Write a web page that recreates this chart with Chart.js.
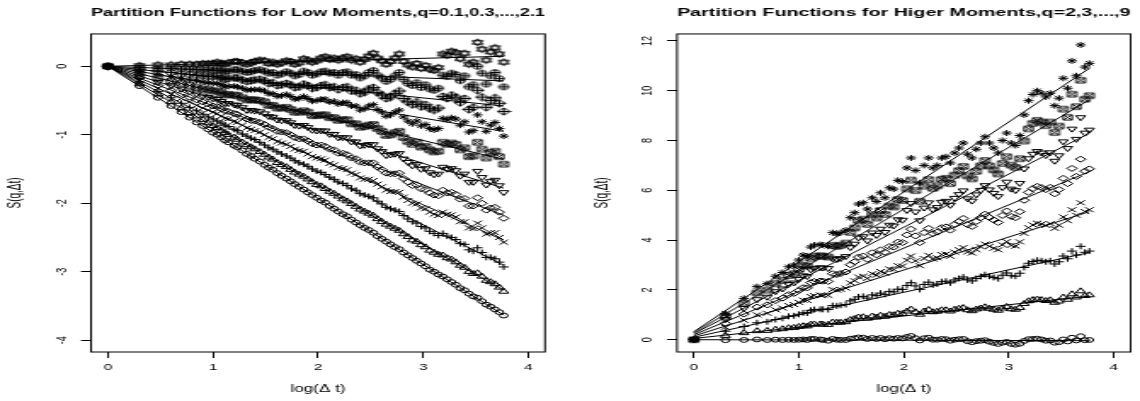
<!DOCTYPE html>
<html>
<head>
<meta charset="utf-8">
<script src="https://cdn.jsdelivr.net/npm/chart.js@4.4.1/dist/chart.umd.min.js"></script>
<style>
  body { margin: 0; background: #fff; width: 1140px; height: 401px; overflow: hidden; position: relative; }
  /* the plots are drawn narrow and widened, as the original device did */
  .panel { position: absolute; top: 0; width: 335px; height: 401px; transform: scaleX(1.7015); transform-origin: 0 0; }
</style>
</head>
<body>
<div class="panel" style="left:0"><canvas id="low" width="335" height="401"></canvas></div>
<div class="panel" style="left:570px"><canvas id="high" width="335" height="401"></canvas></div>
<script>
// log10 of the time lag
const logDt = [0,0.301,0.477,0.602,0.699,0.778,0.845,0.903,0.954,1.000,
  1.041,1.079,1.114,1.146,1.204,1.230,1.279,1.322,1.362,1.398,
  1.447,1.491,1.531,1.568,1.613,1.653,1.699,1.740,1.778,1.820,
  1.863,1.903,1.944,1.987,2.029,2.068,2.111,2.152,2.193,2.236,
  2.276,2.318,2.360,2.401,2.442,2.483,2.525,2.566,2.607,2.649,
  2.690,2.732,2.773,2.814,2.856,2.898,2.939,2.980,3.022,3.063,
  3.104,3.146,3.187,3.229,3.270,3.311,3.353,3.394,3.436,3.477,
  3.518,3.560,3.601,3.642,3.684,3.725,3.767];

const xTicks = [0, 1, 2, 3, 4];
const lowYTicks = [-4, -3, -2, -1, 0];
const highYTicks = [0, 2, 4, 6, 8, 10, 12];

// S(q, dt) for the low moments q = 0.1, 0.3, ..., 2.1
const lowQ01 = [0,-0.29,-0.46,-0.58,-0.67,-0.75,-0.82,-0.87,-0.92,-0.97,
  -1.00,-1.04,-1.08,-1.11,-1.16,-1.18,-1.23,-1.28,-1.31,-1.35,
  -1.39,-1.44,-1.48,-1.51,-1.56,-1.60,-1.64,-1.68,-1.72,-1.76,
  -1.80,-1.84,-1.88,-1.92,-1.96,-1.99,-2.04,-2.08,-2.12,-2.16,
  -2.19,-2.24,-2.28,-2.32,-2.36,-2.39,-2.43,-2.48,-2.52,-2.56,
  -2.60,-2.64,-2.67,-2.72,-2.76,-2.80,-2.84,-2.88,-2.92,-2.97,
  -3.00,-3.04,-3.07,-3.11,-3.15,-3.19,-3.24,-3.27,-3.32,-3.36,
  -3.38,-3.43,-3.48,-3.51,-3.55,-3.59,-3.64];
const lowQ03 = [0,-0.26,-0.41,-0.52,-0.61,-0.68,-0.73,-0.78,-0.83,-0.87,
  -0.90,-0.94,-0.97,-1.00,-1.04,-1.07,-1.11,-1.15,-1.18,-1.21,
  -1.25,-1.29,-1.33,-1.36,-1.41,-1.44,-1.47,-1.51,-1.55,-1.58,
  -1.61,-1.65,-1.69,-1.73,-1.75,-1.79,-1.83,-1.86,-1.90,-1.94,
  -1.97,-2.01,-2.05,-2.09,-2.12,-2.15,-2.18,-2.23,-2.27,-2.31,
  -2.34,-2.37,-2.40,-2.45,-2.49,-2.54,-2.56,-2.61,-2.64,-2.69,
  -2.72,-2.75,-2.76,-2.80,-2.82,-2.86,-2.91,-2.94,-3.00,-3.03,
  -3.02,-3.07,-3.13,-3.15,-3.18,-3.23,-3.29];
const lowQ05 = [0,-0.23,-0.37,-0.46,-0.54,-0.60,-0.65,-0.70,-0.74,-0.77,
  -0.80,-0.83,-0.86,-0.88,-0.92,-0.94,-0.99,-1.02,-1.05,-1.07,
  -1.11,-1.15,-1.19,-1.21,-1.25,-1.28,-1.31,-1.34,-1.38,-1.41,
  -1.43,-1.46,-1.50,-1.53,-1.55,-1.58,-1.62,-1.65,-1.69,-1.71,
  -1.74,-1.79,-1.81,-1.86,-1.88,-1.90,-1.92,-1.97,-2.01,-2.06,
  -2.08,-2.10,-2.12,-2.18,-2.23,-2.27,-2.29,-2.34,-2.36,-2.41,
  -2.44,-2.47,-2.44,-2.48,-2.50,-2.53,-2.59,-2.60,-2.68,-2.70,
  -2.65,-2.72,-2.79,-2.79,-2.81,-2.86,-2.93];
const lowQ07 = [0,-0.20,-0.32,-0.41,-0.47,-0.52,-0.57,-0.61,-0.64,-0.67,
  -0.69,-0.73,-0.76,-0.77,-0.80,-0.82,-0.86,-0.90,-0.92,-0.94,
  -0.96,-1.00,-1.04,-1.06,-1.10,-1.12,-1.14,-1.17,-1.21,-1.23,
  -1.24,-1.28,-1.32,-1.34,-1.35,-1.37,-1.42,-1.44,-1.48,-1.49,
  -1.51,-1.56,-1.58,-1.63,-1.65,-1.65,-1.67,-1.72,-1.76,-1.81,
  -1.83,-1.83,-1.84,-1.91,-1.96,-2.00,-2.01,-2.07,-2.08,-2.13,
  -2.16,-2.18,-2.13,-2.16,-2.17,-2.20,-2.27,-2.27,-2.36,-2.37,
  -2.29,-2.36,-2.45,-2.43,-2.43,-2.50,-2.57];
const lowQ09 = [0,-0.17,-0.28,-0.35,-0.40,-0.45,-0.49,-0.52,-0.55,-0.58,
  -0.59,-0.62,-0.65,-0.66,-0.69,-0.70,-0.74,-0.77,-0.79,-0.80,
  -0.82,-0.85,-0.89,-0.91,-0.95,-0.96,-0.97,-1.00,-1.04,-1.06,
  -1.06,-1.09,-1.13,-1.15,-1.15,-1.17,-1.21,-1.22,-1.27,-1.27,
  -1.29,-1.34,-1.35,-1.40,-1.41,-1.41,-1.41,-1.47,-1.51,-1.56,
  -1.57,-1.57,-1.56,-1.64,-1.69,-1.74,-1.73,-1.79,-1.80,-1.85,
  -1.88,-1.89,-1.81,-1.85,-1.84,-1.87,-1.94,-1.93,-2.04,-2.04,
  -1.92,-2.00,-2.10,-2.07,-2.06,-2.13,-2.22];
const lowQ11 = [0,-0.14,-0.23,-0.28,-0.33,-0.37,-0.40,-0.43,-0.45,-0.47,
  -0.48,-0.51,-0.54,-0.54,-0.56,-0.57,-0.60,-0.64,-0.64,-0.65,
  -0.66,-0.69,-0.73,-0.74,-0.78,-0.79,-0.79,-0.82,-0.86,-0.87,
  -0.86,-0.89,-0.93,-0.94,-0.94,-0.94,-0.99,-0.99,-1.04,-1.04,
  -1.04,-1.10,-1.10,-1.16,-1.15,-1.14,-1.14,-1.20,-1.24,-1.30,
  -1.29,-1.28,-1.27,-1.35,-1.40,-1.45,-1.43,-1.50,-1.49,-1.55,
  -1.58,-1.57,-1.47,-1.50,-1.49,-1.52,-1.60,-1.57,-1.69,-1.69,
  -1.53,-1.62,-1.73,-1.68,-1.66,-1.74,-1.84];
const lowQ13 = [0,-0.11,-0.17,-0.22,-0.25,-0.28,-0.31,-0.33,-0.34,-0.36,
  -0.36,-0.39,-0.42,-0.41,-0.42,-0.43,-0.46,-0.49,-0.49,-0.49,
  -0.50,-0.52,-0.57,-0.57,-0.61,-0.61,-0.60,-0.63,-0.67,-0.67,
  -0.65,-0.67,-0.72,-0.72,-0.71,-0.71,-0.75,-0.75,-0.79,-0.78,
  -0.78,-0.84,-0.84,-0.89,-0.88,-0.86,-0.85,-0.91,-0.95,-1.01,
  -1.00,-0.97,-0.95,-1.04,-1.10,-1.14,-1.11,-1.18,-1.17,-1.22,
  -1.25,-1.24,-1.11,-1.14,-1.12,-1.14,-1.22,-1.19,-1.32,-1.31,
  -1.11,-1.21,-1.34,-1.26,-1.24,-1.32,-1.43];
const lowQ15 = [0,-0.08,-0.12,-0.15,-0.18,-0.20,-0.21,-0.23,-0.24,-0.25,
  -0.25,-0.27,-0.30,-0.29,-0.29,-0.30,-0.32,-0.35,-0.34,-0.34,
  -0.34,-0.36,-0.40,-0.40,-0.44,-0.43,-0.41,-0.44,-0.48,-0.47,
  -0.44,-0.47,-0.51,-0.50,-0.48,-0.48,-0.52,-0.51,-0.55,-0.53,
  -0.53,-0.58,-0.58,-0.64,-0.62,-0.58,-0.56,-0.63,-0.67,-0.73,
  -0.71,-0.67,-0.64,-0.74,-0.80,-0.84,-0.80,-0.87,-0.85,-0.91,
  -0.93,-0.91,-0.76,-0.78,-0.75,-0.77,-0.86,-0.81,-0.96,-0.94,
  -0.71,-0.81,-0.95,-0.86,-0.82,-0.91,-1.02];
const lowQ17 = [0,-0.05,-0.07,-0.09,-0.11,-0.12,-0.13,-0.14,-0.15,-0.15,
  -0.14,-0.17,-0.19,-0.18,-0.17,-0.17,-0.20,-0.22,-0.21,-0.20,
  -0.19,-0.21,-0.25,-0.24,-0.28,-0.27,-0.25,-0.27,-0.31,-0.30,
  -0.26,-0.28,-0.32,-0.31,-0.28,-0.27,-0.31,-0.30,-0.34,-0.31,
  -0.30,-0.36,-0.35,-0.40,-0.38,-0.33,-0.31,-0.38,-0.42,-0.47,
  -0.45,-0.40,-0.36,-0.47,-0.52,-0.56,-0.52,-0.59,-0.56,-0.62,
  -0.64,-0.61,-0.44,-0.47,-0.42,-0.45,-0.53,-0.47,-0.63,-0.60,
  -0.35,-0.45,-0.60,-0.50,-0.46,-0.54,-0.66];
const lowQ19 = [0,-0.02,-0.03,-0.03,-0.04,-0.04,-0.05,-0.05,-0.05,-0.06,
  -0.04,-0.06,-0.08,-0.07,-0.05,-0.05,-0.07,-0.09,-0.08,-0.06,
  -0.05,-0.07,-0.10,-0.09,-0.13,-0.11,-0.08,-0.10,-0.14,-0.12,
  -0.07,-0.09,-0.13,-0.11,-0.08,-0.07,-0.10,-0.09,-0.13,-0.09,
  -0.08,-0.13,-0.12,-0.17,-0.14,-0.09,-0.06,-0.13,-0.17,-0.22,
  -0.19,-0.14,-0.09,-0.19,-0.25,-0.28,-0.24,-0.31,-0.27,-0.33,
  -0.35,-0.32,-0.13,-0.15,-0.10,-0.12,-0.21,-0.14,-0.30,-0.27,
  0.00,-0.10,-0.26,-0.14,-0.09,-0.18,-0.30];
const lowQ21 = [0,0.01,0.02,0.02,0.03,0.03,0.03,0.04,0.04,0.04,
  0.06,0.04,0.03,0.05,0.07,0.07,0.05,0.03,0.05,0.07,
  0.09,0.08,0.04,0.06,0.03,0.05,0.08,0.07,0.03,0.05,
  0.11,0.09,0.06,0.08,0.12,0.14,0.10,0.12,0.09,0.12,
  0.14,0.09,0.11,0.06,0.10,0.15,0.19,0.12,0.08,0.03,
  0.07,0.12,0.18,0.07,0.02,-0.01,0.04,-0.03,0.01,-0.04,
  -0.06,-0.02,0.18,0.16,0.22,0.20,0.11,0.19,0.03,0.06,
  0.35,0.25,0.09,0.21,0.27,0.18,0.06];

// least-squares lines, value at the first and at the last lag
const lowFitStart = [0, 0, 0, 0, 0, 0, 0, 0, 0, 0, 0];
const lowFitEnd = [-3.635, -3.27, -2.905, -2.54, -2.175, -1.78, -1.36, -0.95, -0.58, -0.214, 0.146];

// S(q, dt) for the higher moments q = 2, 3, ..., 9
const highQ2 = [0,-0.02,-0.01,0.01,-0.01,0.00,-0.01,0.00,-0.01,0.00,
  0.01,-0.01,0.03,0.03,0.01,-0.01,-0.04,0.03,0.00,-0.01,
  -0.01,0.04,0.06,0.09,0.08,0.03,0.07,0.03,0.07,0.02,
  0.06,0.04,0.07,0.05,0.11,0.15,0.06,-0.03,0.06,0.08,
  0.00,0.00,0.03,0.02,-0.04,0.00,0.02,0.03,-0.06,-0.10,
  -0.06,-0.04,-0.02,-0.08,-0.13,-0.17,-0.12,-0.09,-0.17,-0.20,
  -0.16,-0.05,0.02,0.03,0.04,0.01,-0.04,-0.03,-0.12,-0.10,
  0.01,-0.07,0.08,-0.03,0.14,-0.02,-0.01];
const highQ3 = [0,0.16,0.27,0.35,0.36,0.41,0.43,0.47,0.48,0.52,
  0.55,0.54,0.61,0.62,0.62,0.61,0.60,0.70,0.69,0.69,
  0.71,0.80,0.84,0.90,0.91,0.85,0.94,0.90,0.97,0.93,
  1.00,0.99,1.05,1.04,1.14,1.22,1.11,1.01,1.14,1.20,
  1.11,1.13,1.19,1.19,1.14,1.21,1.25,1.28,1.19,1.15,
  1.22,1.26,1.31,1.25,1.21,1.17,1.26,1.32,1.23,1.21,
  1.28,1.44,1.55,1.60,1.62,1.60,1.56,1.59,1.49,1.54,
  1.70,1.61,1.83,1.70,1.95,1.76,1.79];
const highQ4 = [0,0.34,0.53,0.68,0.72,0.81,0.86,0.94,0.96,1.02,
  1.08,1.07,1.18,1.21,1.22,1.22,1.21,1.37,1.36,1.38,
  1.41,1.56,1.62,1.72,1.74,1.67,1.80,1.77,1.87,1.82,
  1.94,1.92,2.03,2.02,2.18,2.29,2.16,2.02,2.22,2.31,
  2.20,2.24,2.33,2.35,2.28,2.40,2.46,2.52,2.40,2.36,
  2.46,2.54,2.61,2.55,2.50,2.45,2.59,2.68,2.57,2.55,
  2.67,2.90,3.07,3.14,3.19,3.17,3.13,3.17,3.04,3.13,
  3.36,3.25,3.56,3.40,3.75,3.51,3.56];
const highQ5 = [0,0.50,0.78,1.00,1.06,1.20,1.27,1.37,1.41,1.50,
  1.59,1.58,1.73,1.77,1.79,1.79,1.78,2.01,1.99,2.02,
  2.07,2.28,2.37,2.52,2.55,2.46,2.65,2.59,2.74,2.67,
  2.84,2.82,2.97,2.96,3.19,3.36,3.17,2.97,3.26,3.39,
  3.24,3.29,3.42,3.44,3.35,3.52,3.61,3.70,3.52,3.48,
  3.62,3.73,3.84,3.75,3.67,3.61,3.81,3.94,3.79,3.76,
  3.93,4.27,4.50,4.61,4.68,4.65,4.59,4.66,4.47,4.60,
  4.93,4.78,5.22,5.00,5.50,5.15,5.22];
const highQ6 = [0,0.66,1.03,1.31,1.40,1.57,1.67,1.81,1.86,1.98,
  2.09,2.08,2.29,2.34,2.36,2.35,2.34,2.65,2.62,2.66,
  2.72,3.01,3.13,3.32,3.36,3.23,3.49,3.41,3.61,3.51,
  3.74,3.72,3.92,3.90,4.21,4.44,4.17,3.90,4.30,4.47,
  4.26,4.32,4.50,4.53,4.40,4.63,4.75,4.87,4.62,4.55,
  4.75,4.90,5.04,4.91,4.81,4.71,4.99,5.17,4.95,4.90,
  5.14,5.60,5.92,6.07,6.16,6.11,6.03,6.12,5.86,6.03,
  6.48,6.27,6.88,6.56,7.25,6.77,6.86];
const highQ7 = [0,0.82,1.27,1.62,1.72,1.94,2.05,2.23,2.29,2.43,
  2.58,2.55,2.82,2.88,2.90,2.89,2.87,3.26,3.23,3.27,
  3.35,3.71,3.85,4.10,4.15,3.98,4.30,4.20,4.45,4.32,
  4.61,4.58,4.83,4.81,5.20,5.48,5.14,4.79,5.30,5.51,
  5.23,5.32,5.53,5.57,5.41,5.69,5.84,5.99,5.67,5.58,
  5.83,6.01,6.20,6.03,5.89,5.76,6.12,6.34,6.06,6.00,
  6.29,6.87,7.28,7.46,7.57,7.51,7.41,7.52,7.18,7.40,
  7.96,7.69,8.47,8.06,8.93,8.31,8.43];
const highQ8 = [0,0.93,1.46,1.88,1.99,2.25,2.38,2.58,2.65,2.82,
  2.99,2.96,3.27,3.35,3.37,3.35,3.32,3.79,3.75,3.79,
  3.88,4.31,4.49,4.78,4.84,4.63,5.02,4.89,5.19,5.03,
  5.37,5.33,5.63,5.59,6.06,6.41,5.99,5.56,6.17,6.43,
  6.08,6.18,6.44,6.48,6.27,6.61,6.79,6.96,6.58,6.46,
  6.76,6.98,7.20,6.98,6.82,6.66,7.08,7.35,7.01,6.92,
  7.27,7.98,8.47,8.69,8.81,8.74,8.60,8.74,8.32,8.58,
  9.26,8.93,9.86,9.36,10.42,9.66,9.80];
const highQ9 = [0,1.06,1.66,2.13,2.25,2.55,2.70,2.93,3.00,3.20,
  3.40,3.35,3.72,3.80,3.82,3.80,3.75,4.30,4.25,4.30,
  4.40,4.90,5.10,5.45,5.50,5.25,5.70,5.55,5.90,5.70,
  6.10,6.05,6.40,6.35,6.90,7.30,6.80,6.30,7.00,7.30,
  6.90,7.00,7.30,7.35,7.10,7.50,7.70,7.90,7.45,7.30,
  7.65,7.90,8.15,7.90,7.70,7.50,8.00,8.30,7.90,7.80,
  8.20,9.03,9.60,9.85,10.00,9.90,9.75,9.90,9.40,9.70,
  10.50,10.10,11.20,10.60,11.84,10.95,11.10];

const highFitStart = [0, 0.05, 0.10, 0.15, 0.20, 0.25, 0.28, 0.32];
const highFitEnd = [-0.04, 1.75, 3.50, 5.14, 6.75, 8.29, 9.63, 10.90];

Chart.defaults.font.family = '"Liberation Sans", Arial, Helvetica, sans-serif';
Chart.defaults.color = '#000';

// plotting symbols that Chart.js has no shape for
function symbol(draw) {
  const c = document.createElement('canvas');
  c.width = 9; c.height = 9;
  const g = c.getContext('2d');
  g.strokeStyle = '#000';
  g.lineWidth = 1;
  g.beginPath();
  draw(g, 4.5);
  g.stroke();
  return c;
}
const squareCross = symbol((g, c) => {
  const h = 2.6;
  g.rect(c - h, c - h, 2 * h, 2 * h);
  g.moveTo(c - h, c - h); g.lineTo(c + h, c + h);
  g.moveTo(c + h, c - h); g.lineTo(c - h, c + h);
});
const diamondPlus = symbol((g, c) => {
  const r = 3.6;
  g.moveTo(c - r, c); g.lineTo(c, c - r); g.lineTo(c + r, c); g.lineTo(c, c + r); g.closePath();
  g.moveTo(c - r, c); g.lineTo(c + r, c);
  g.moveTo(c, c - r); g.lineTo(c, c + r);
});
const circlePlus = symbol((g, c) => {
  const r = 2.8;
  g.arc(c, c, r, 0, Math.PI * 2);
  g.moveTo(c - r, c); g.lineTo(c + r, c);
  g.moveTo(c, c - r); g.lineTo(c, c + r);
});
const twoTriangles = symbol((g, c) => {
  const r = 3.6, w = r * 0.866;
  g.moveTo(c, c - r); g.lineTo(c + w, c + r / 2); g.lineTo(c - w, c + r / 2); g.closePath();
  g.moveTo(c, c + r); g.lineTo(c + w, c - r / 2); g.lineTo(c - w, c - r / 2); g.closePath();
});

const shapes = ['circle', 'triangle', 'cross', 'crossRot', 'rectRot', 'triangle',
  squareCross, 'star', diamondPlus, circlePlus, twoTriangles];
const turns = [0, 0, 0, 0, 0, 180, 0, 0, 0, 0, 0];
const sizes = [2.4, 3.3, 3.0, 3.5, 3.0, 3.3, 4.5, 3.0, 4.5, 4.5, 4.5];

function pointSet(ys, k) {
  return {
    data: ys.map((y, i) => ({ x: logDt[i], y: y })),
    showLine: false,
    pointStyle: shapes[k],
    pointRotation: turns[k],
    pointRadius: sizes[k],
    pointBorderColor: '#000',
    pointBackgroundColor: 'rgba(0,0,0,0)',
    pointBorderWidth: 1
  };
}

function fitSet(y0, y1) {
  return {
    data: [{ x: logDt[0], y: y0 }, { x: logDt[logDt.length - 1], y: y1 }],
    showLine: true,
    pointRadius: 0,
    borderColor: '#000',
    borderWidth: 1
  };
}

const frame = {
  id: 'frame',
  afterDraw(chart) {
    const { ctx, chartArea: a } = chart;
    ctx.save();
    ctx.strokeStyle = '#000';
    ctx.lineWidth = 1;
    ctx.strokeRect(a.left, a.top, a.right - a.left, a.bottom - a.top);
    ctx.restore();
  }
};

function drawPanel(id, title, series, starts, ends, yMin, yMax, yTicks, yWidth, padRight, tickPad, labelPad) {
  const datasets = [];
  series.forEach((ys, k) => {
    datasets.push(pointSet(ys, k));
    datasets.push(fitSet(starts[k], ends[k]));
  });
  new Chart(document.getElementById(id), {
    type: 'scatter',
    data: { datasets: datasets },
    plugins: [frame],
    options: {
      responsive: false,
      animation: false,
      devicePixelRatio: 1,
      events: [],
      layout: { padding: { left: 0, right: padRight, top: 0, bottom: 0 } },
      plugins: {
        legend: { display: false },
        tooltip: { enabled: false },
        title: {
          display: true,
          text: title,
          fullSize: false,
          color: '#000',
          font: { size: 11.8, weight: 'bold' },
          padding: { top: 6, bottom: 13.8 }
        }
      },
      scales: {
        x: {
          type: 'linear',
          min: -0.16,
          max: 4.16,
          afterBuildTicks: s => { s.ticks = xTicks.map(v => ({ value: v })); },
          afterFit: s => { s.height = 49; },
          border: { display: false },
          grid: { drawOnChartArea: false, drawTicks: true, tickLength: 6, color: '#000', lineWidth: 1 },
          ticks: { font: { size: 9 }, color: '#000', padding: 4.6, maxRotation: 0, autoSkip: false },
          title: { display: true, text: 'log(Δ t)', color: '#000', font: { size: 10 }, padding: { top: 0, bottom: 6 } }
        },
        y: {
          type: 'linear',
          min: yMin,
          max: yMax,
          afterBuildTicks: s => { s.ticks = yTicks.map(v => ({ value: v })); },
          afterFit: s => { s.width = yWidth; },
          border: { display: false },
          grid: { drawOnChartArea: false, drawTicks: true, tickLength: 5.9, color: '#000', lineWidth: 1 },
          ticks: { font: { size: 9 }, color: '#000', padding: tickPad, minRotation: 90, maxRotation: 90, crossAlign: 'center', autoSkip: false },
          title: { display: true, text: 'S(q,Δt)', color: '#000', font: { size: 10 }, padding: { top: labelPad, bottom: 0 } }
        }
      }
    }
  });
}

drawPanel('low', 'Partition Functions for Low Moments,q=0.1,0.3,...,2.1',
  [lowQ01, lowQ03, lowQ05, lowQ07, lowQ09, lowQ11, lowQ13, lowQ15, lowQ17, lowQ19, lowQ21],
  lowFitStart, lowFitEnd, -4.172, 0.472, lowYTicks, 53.5, 14.7, 7.3, 2.8);

drawPanel('high', 'Partition Functions for Higer Moments,q=2,3,...,9',
  [highQ2, highQ3, highQ4, highQ5, highQ6, highQ7, highQ8, highQ9],
  highFitStart, highFitEnd, -0.494, 12.28, highYTicks, 62.9, 4.7, 6.2, 12.8);
</script>
</body>
</html>
